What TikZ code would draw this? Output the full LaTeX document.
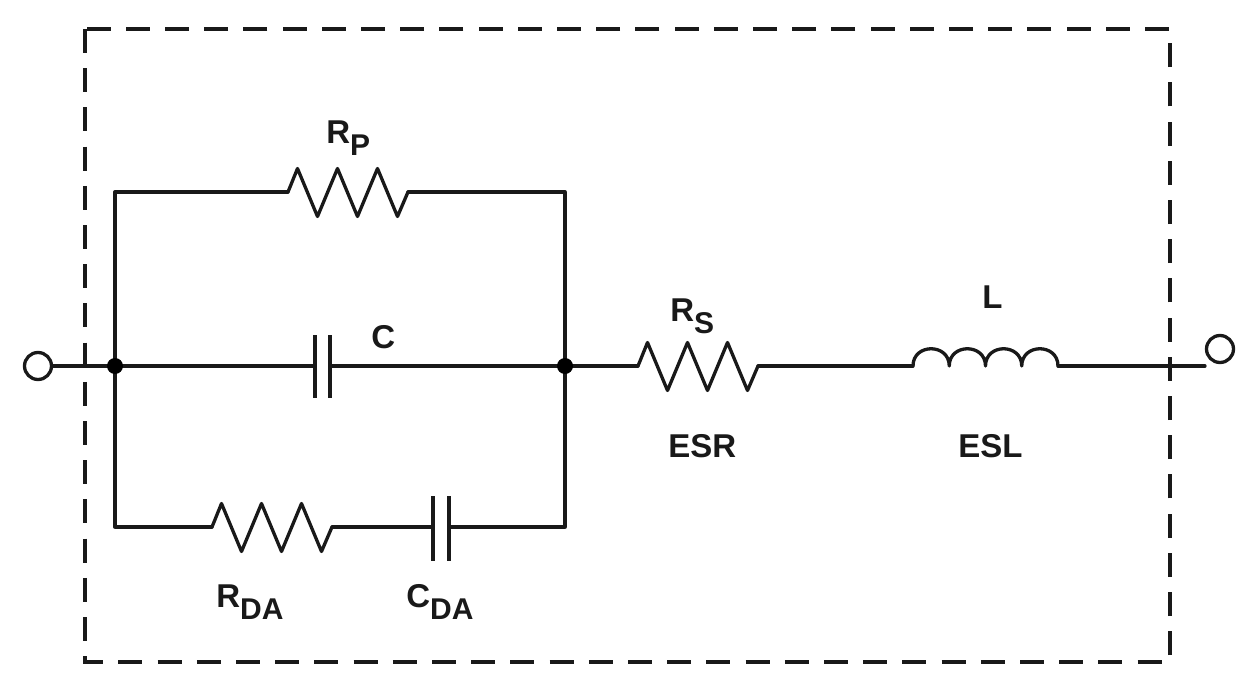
\documentclass[tikz,border=0pt]{standalone}
\usepackage{fontspec}
\setmainfont{Liberation Sans}
\newcommand{\zigpath}{-- ++(9.5,-23.5) -- ++(20,48) -- ++(20,-48) -- ++(20,48) -- ++(20,-48) -- ++(20,48) -- ++(10.5,-24.5)}
\newcommand{\bump}{.. controls +(0,-23) and +(0,-23) .. ++(36.25,0)}
\newcommand{\lbl}[2]{\textbf{#1\raisebox{-6pt}{\fontsize{15}{16}\selectfont #2}}}
\tikzset{
  x=0.5pt,y=-0.5pt,
  wire/.style={line width=1.65pt,line join=round,line cap=round,black!90},
  frame/.style={line width=1.65pt,black!90,dash pattern=on 12pt off 7.6pt},
  plate/.style={line width=1.65pt,black!90},
  dotnode/.style={circle,fill=black,inner sep=0pt,minimum size=8pt},
  term/.style={circle,draw=black!90,line width=1.65pt,fill=white,inner sep=0pt,minimum size=13.5pt},
  lab/.style={anchor=base west,inner sep=0pt,font=\fontsize{16.5}{18}\selectfont\bfseries,text=black!90}
}
\begin{document}
\begin{tikzpicture}
\useasboundingbox (0,0) rectangle (1248,696);
\draw[frame] (85,29) rectangle (1170,662);
% junctions and terminals
\coordinate (JL) at (115,366);
\coordinate (JR) at (565,366);
\coordinate (TR) at (1205,366);
\node[term] (T1) at (38,366) {};
\node[term] (T2) at (1220,349) {};
% component end points
\coordinate (RPa) at (288,192); \coordinate (RPb) at (408,192);
\coordinate (Ca) at (315,366);  \coordinate (Cb) at (330,366);
\coordinate (RSa) at (638,366); \coordinate (RSb) at (758,366);
\coordinate (La) at (913,366);  \coordinate (Lb) at (1058,366);
\coordinate (RDa) at (212,527); \coordinate (RDb) at (332,527);
\coordinate (CDa) at (433,527); \coordinate (CDb) at (449,527);
% wires
\draw[wire] (T1) -- (JL) -- (Ca);
\draw[wire] (Cb) -- (JR) -- (RSa);
\draw[wire] (JL) |- (RPa);
\draw[wire] (RPb) -| (JR);
\draw[wire] (JL) |- (RDa);
\draw[wire] (RDb) -- (CDa);
\draw[wire] (CDb) -| (JR);
\draw[wire] (RSb) -- (La);
\draw[wire] (Lb) -- (TR);
% resistors
\draw[wire] (RPa) \zigpath;
\draw[wire] (RSa) \zigpath;
\draw[wire] (RDa) \zigpath;
% capacitors
\draw[plate] (315,335) -- (315,398);
\draw[plate] (330,335) -- (330,398);
\draw[plate] (433,496) -- (433,561);
\draw[plate] (449,496) -- (449,561);
% inductor
\draw[wire] (La) \bump \bump \bump \bump;
% dots
\node[dotnode] (D1) at (JL) {};
\node[dotnode] (D2) at (JR) {};
% labels
\node[lab] (lRP) at (326,143) {\lbl{R}{P}};
\node[lab] (lC) at (371,348) {C};
\node[lab] (lRS) at (670,321) {\lbl{R}{S}};
\node[lab] (lL) at (982,308) {L};
\node[lab] (lESR) at (668,457) {ESR};
\node[lab] (lESL) at (958,457) {ESL};
\node[lab] (lRD) at (216,607) {\lbl{R}{DA}};
\node[lab] (lCD) at (406,607) {\lbl{C}{DA}};
\end{tikzpicture}
\end{document}
